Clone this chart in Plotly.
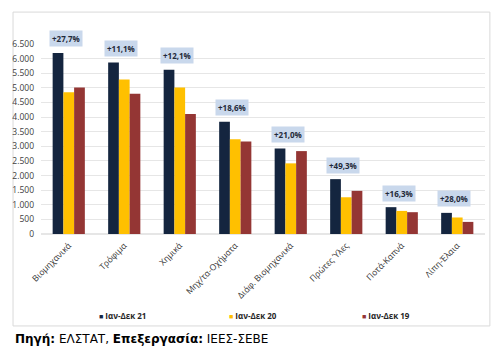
import plotly.graph_objects as go

categories = ['Βιομηχανικά', 'Τρόφιμα', 'Χημικά', 'Μηχ/τα-Οχήματα',
              'Διάφ. Βιομηχανικά', 'Πρώτες Ύλες', 'Ποτά-Καπνά', 'Λίπη-Έλαια']
series_names = ['Ιαν-Δεκ 21', 'Ιαν-Δεκ 20', 'Ιαν-Δεκ 19']
vals_21 = [6195, 5870, 5620, 3840, 2925, 1877, 918, 723]
vals_20 = [4852, 5283, 5013, 3238, 2417, 1257, 790, 565]
vals_19 = [5014, 4798, 4103, 3164, 2836, 1476, 746, 414]
change_labels = ['+27,7%', '+11,1%', '+12,1%', '+18,6%', '+21,0%', '+49,3%', '+16,3%', '+28,0%']
y_ticks = list(range(0, 7000, 500))

colors = ['#14253F', '#FFC000', '#943634']
FONT = 'Open Sans'

fig = go.Figure()
for name, vals, col in zip(series_names, [vals_21, vals_20, vals_19], colors):
    fig.add_trace(go.Bar(x=categories, y=vals, name=name, marker_color=col,
                         marker_line_width=0, showlegend=False))

for cat, v, lab in zip(categories, vals_21, change_labels):
    fig.add_annotation(x=cat, y=v, text='<b>' + lab + '</b>', showarrow=False,
                       xshift=-3, yshift=14, bgcolor='#C9D8EC', borderpad=2,
                       font=dict(family=FONT, size=8, color='#1F2A3A'))

# legend as text entries
legend_x = [0.125, 0.419, 0.719]
for name, col, lx in zip(series_names, colors, legend_x):
    fig.add_annotation(xref='paper', yref='paper', x=lx, y=-0.43, xanchor='left',
                       yanchor='middle', showarrow=False,
                       text='<span style="color:%s;font-size:7px">■</span> <b>%s</b>' % (col, name),
                       font=dict(family=FONT, size=8, color='#262626'))

# outer chart border
fig.add_shape(type='rect', xref='paper', yref='paper', x0=-0.063, x1=1.011,
              y0=-0.484, y1=1.168, line=dict(color='#D9D9D9', width=1),
              fillcolor='rgba(0,0,0,0)', layer='below')

fig.add_annotation(xref='paper', yref='paper', x=-0.063, y=-0.553, xanchor='left',
                   yanchor='middle', showarrow=False,
                   text='<b>Πηγή:</b> ΕΛΣΤΑΤ, <b>Επεξεργασία:</b> ΙΕΕΣ-ΣΕΒΕ',
                   font=dict(family='DejaVu Sans', size=12, color='#000000'))

fig.update_layout(
    width=501, height=349,
    margin=dict(l=39, r=16, t=44, b=115),
    paper_bgcolor='white', plot_bgcolor='white',
    barmode='group', bargap=0.42, bargroupgap=0,
    separators=',.',
    showlegend=False,
    font=dict(family=FONT, size=8, color='#404040'),
    xaxis=dict(tickangle=-45, showgrid=False, showline=False, ticks='',
               ticklabelstandoff=4,
               tickfont=dict(family=FONT, size=8.5, color='#333333')),
    yaxis=dict(range=[0, 6500], tickvals=y_ticks, tickformat=',d',
               showgrid=True, gridcolor='#E6E6E6', gridwidth=1,
               zeroline=True, zerolinecolor='#E6E6E6', showline=False, ticks='',
               ticklabelstandoff=6,
               tickfont=dict(family=FONT, size=8.5, color='#404040')),
)

fig.write_html('out.html')
